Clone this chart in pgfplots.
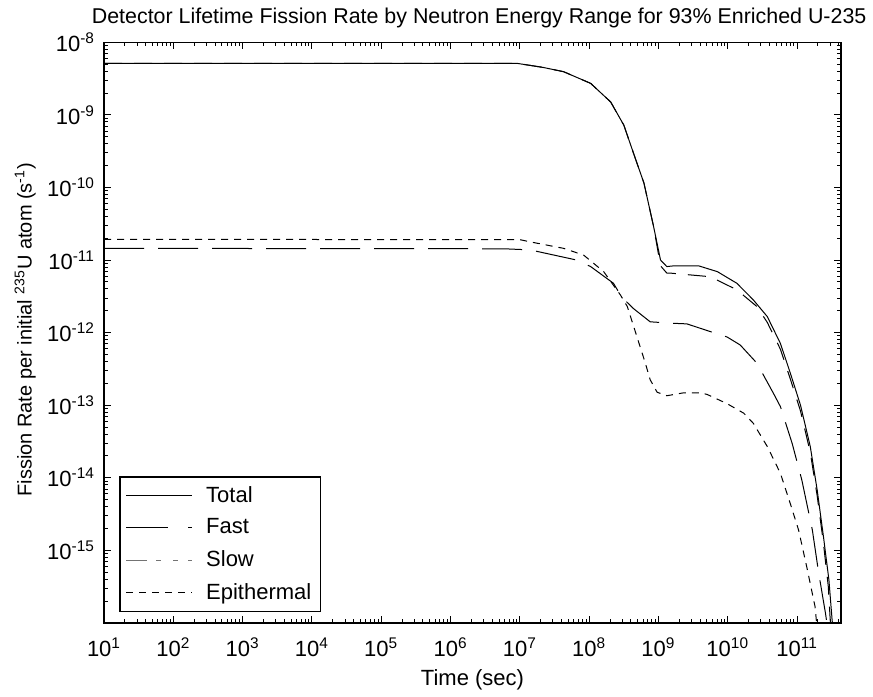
\documentclass[border=0pt]{standalone}
\usepackage{fontspec}
\setmainfont{Liberation Sans}
\usepackage{pgfplots}
\pgfplotsset{compat=1.18}

\begin{document}
\begin{tikzpicture}
\useasboundingbox (-52pt,-36.65pt) rectangle (384.35pt,311.35pt);
\begin{axis}[
  at={(0,0)}, anchor=south west,
  scale only axis,
  width=368.35pt, height=290.2pt,
  xmode=log, ymode=log,
  xmin=10, xmax=4.3e11,
  ymin=1e-16, ymax=1e-8,
  font=\fontsize{11}{13.2}\selectfont,
  axis line style={line width=0.8pt},
  major tick style={line width=0.5pt, black},
  minor tick style={line width=0.5pt, black},
  tick align=inside,
  major tick length=3.5pt,
  minor tick length=2pt,
  xtick={1e1,1e2,1e3,1e4,1e5,1e6,1e7,1e8,1e9,1e10,1e11},
  xticklabels={10\textsuperscript{1},10\textsuperscript{2},10\textsuperscript{3},10\textsuperscript{4},10\textsuperscript{5},10\textsuperscript{6},10\textsuperscript{7},10\textsuperscript{8},10\textsuperscript{9},10\textsuperscript{10},10\textsuperscript{11}},
  minor xtick={2e1,3e1,4e1,5e1,6e1,7e1,8e1,9e1,
    2e2,3e2,4e2,5e2,6e2,7e2,8e2,9e2,
    2e3,3e3,4e3,5e3,6e3,7e3,8e3,9e3,
    2e4,3e4,4e4,5e4,6e4,7e4,8e4,9e4,
    2e5,3e5,4e5,5e5,6e5,7e5,8e5,9e5,
    2e6,3e6,4e6,5e6,6e6,7e6,8e6,9e6,
    2e7,3e7,4e7,5e7,6e7,7e7,8e7,9e7,
    2e8,3e8,4e8,5e8,6e8,7e8,8e8,9e8,
    2e9,3e9,4e9,5e9,6e9,7e9,8e9,9e9,
    2e10,3e10,4e10,5e10,6e10,7e10,8e10,9e10,
    2e11,3e11,4e11},
  ytick={1e-16,1e-15,1e-14,1e-13,1e-12,1e-11,1e-10,1e-9,1e-8},
  yticklabels={,10\textsuperscript{-15},10\textsuperscript{-14},10\textsuperscript{-13},10\textsuperscript{-12},10\textsuperscript{-11},10\textsuperscript{-10},10\textsuperscript{-9},10\textsuperscript{-8}},
  minor ytick={2e-16,3e-16,4e-16,5e-16,6e-16,7e-16,8e-16,9e-16,
    2e-15,3e-15,4e-15,5e-15,6e-15,7e-15,8e-15,9e-15,
    2e-14,3e-14,4e-14,5e-14,6e-14,7e-14,8e-14,9e-14,
    2e-13,3e-13,4e-13,5e-13,6e-13,7e-13,8e-13,9e-13,
    2e-12,3e-12,4e-12,5e-12,6e-12,7e-12,8e-12,9e-12,
    2e-11,3e-11,4e-11,5e-11,6e-11,7e-11,8e-11,9e-11,
    2e-10,3e-10,4e-10,5e-10,6e-10,7e-10,8e-10,9e-10,
    2e-9,3e-9,4e-9,5e-9,6e-9,7e-9,8e-9,9e-9},
  xticklabel style={anchor=base, yshift=-16.7pt},
  yticklabel style={anchor=east, xshift=-1pt},
  every axis title shift=0pt,
  title={Detector Lifetime Fission Rate by Neutron Energy Range for 93\% Enriched U-235},
  title style={at={(axis description cs:0.509,1)}, anchor=base, yshift=9.5pt, inner sep=0pt,
    font=\fontsize{10.7}{13}\selectfont},
  xlabel={Time (sec)},
  xlabel style={at={(axis description cs:0.5,0)}, anchor=base, yshift=-31.5pt, inner sep=0pt},
  ylabel={Fission Rate per initial \textsuperscript{235}U atom (s\textsuperscript{-1})},
  ylabel style={at={(axis description cs:-0.107,0.505)}, anchor=center, inner sep=0pt,
    font=\fontsize{10}{12}\selectfont},
  legend style={at={(axis description cs:0.0208,0.019)}, anchor=south west,
    draw=black, line width=0.6pt, fill=white,
    font=\fontsize{11}{13.2}\selectfont,
    row sep=3.6pt, inner xsep=3pt, inner ysep=3pt,
    nodes={inner sep=1.6pt}},
  legend cell align=left,
  legend image code/.code={\draw[#1] (6pt,0pt) -- (39pt,0pt); \path (44pt,0pt);},
]

% Total
\addplot[black, line width=0.5pt] coordinates {
(10,5.13e-9) (9.12e6,5.13e-9) (2.14e7,4.52e-9) (4.27e7,3.94e-9) (1.05e8,2.72e-9)
(2.04e8,1.51e-9) (3.16e8,7.24e-10) (4.37e8,2.95e-10) (6.17e8,1.15e-10) (8.51e8,2.88e-11)
(1.07e9,1.0e-11) (1.32e9,8.13e-12) (1.66e9,8.32e-12) (3.80e9,8.32e-12) (7.08e9,6.92e-12)
(1.35e10,4.79e-12) (2.34e10,2.82e-12) (3.72e10,1.66e-12) (5.75e10,7.08e-13) (7.94e10,2.82e-13)
(1.12e11,1.0e-13) (1.55e11,2.69e-14) (1.95e11,6.76e-15) (2.40e11,1.55e-15) (2.88e11,3.89e-16)
(3.20e11,1.10e-16) (3.30e11,8e-17)
};
\addlegendentry{Total}

% Fast
\addplot[black, line width=0.5pt, dash pattern=on 9pt off 6pt,
  legend image post style={dash pattern=on 20.8pt off 10pt on 2.5pt off 3pt}] coordinates {
(10,5.13e-9) (9.12e6,5.13e-9) (2.14e7,4.52e-9) (4.27e7,3.94e-9) (1.05e8,2.72e-9)
(2.04e8,1.51e-9) (3.16e8,7.24e-10) (4.37e8,2.95e-10) (6.17e8,1.15e-10) (8.51e8,2.88e-11)
(1.07e9,8.32e-12) (1.32e9,6.61e-12) (1.48e9,6.61e-12) (5.62e9,5.89e-12) (1.35e10,3.89e-12)
(2.63e10,2.29e-12) (3.72e10,1.38e-12) (5.75e10,5.89e-13) (7.94e10,2.34e-13) (1.12e11,8.32e-14)
(1.55e11,2.24e-14) (1.95e11,5.62e-15) (2.40e11,1.26e-15) (2.82e11,3.16e-16) (3.02e11,1.02e-16)
(3.10e11,8e-17)
};
\addlegendentry{Fast}

% Slow
\addplot[black, line width=0.5pt, dash pattern=on 20pt off 7pt,
  legend image post style={black!55, dash pattern=on 10.3pt off 4.7pt on 2.5pt off 5.8pt on 2.5pt off 5pt on 2.5pt off 3pt}] coordinates {
(10,1.45e-11) (5.89e6,1.43e-11) (1.41e7,1.38e-11) (6.61e7,1.0e-11) (1.05e8,8.13e-12)
(2.24e8,4.79e-12) (2.95e8,3.09e-12) (4.37e8,2.14e-12) (7.59e8,1.41e-12) (1.48e9,1.35e-12)
(2.57e9,1.32e-12) (5.01e9,1.07e-12) (9.77e9,8.71e-13) (1.51e10,6.76e-13) (2.63e10,3.80e-13)
(4.57e10,1.45e-13) (5.75e10,9.55e-14) (8.51e10,2.95e-14) (1.17e11,9.33e-15) (1.66e11,1.91e-15)
(2.04e11,5.01e-16) (2.57e11,1.35e-16) (2.69e11,1.0e-16) (2.75e11,8e-17)
};
\addlegendentry{Slow}

% Epithermal
\addplot[black, line width=0.5pt, dash pattern=on 3.5pt off 3pt] coordinates {
(10,1.93e-11) (1e7,1.91e-11) (1.41e7,1.78e-11) (4.27e7,1.45e-11) (8.32e7,1.17e-11)
(1.62e8,6.92e-12) (2.82e8,3.31e-12) (3.55e8,2.29e-12) (4.90e8,8.71e-13) (6.46e8,3.80e-13)
(7.59e8,2.24e-13) (9.55e8,1.51e-13) (1.32e9,1.35e-13) (2.29e9,1.48e-13) (3.98e9,1.48e-13)
(5.01e9,1.41e-13) (9.77e9,1.05e-13) (1.70e10,7.76e-14) (2.34e10,5.62e-14) (3.72e10,2.69e-14)
(5.75e10,1.15e-14) (7.94e10,4.47e-15) (1.05e11,1.91e-15) (1.38e11,5.89e-16) (1.82e11,1.66e-16)
(1.91e11,1.0e-16) (1.95e11,8e-17)
};
\addlegendentry{Epithermal}

\end{axis}
\end{tikzpicture}
\end{document}
